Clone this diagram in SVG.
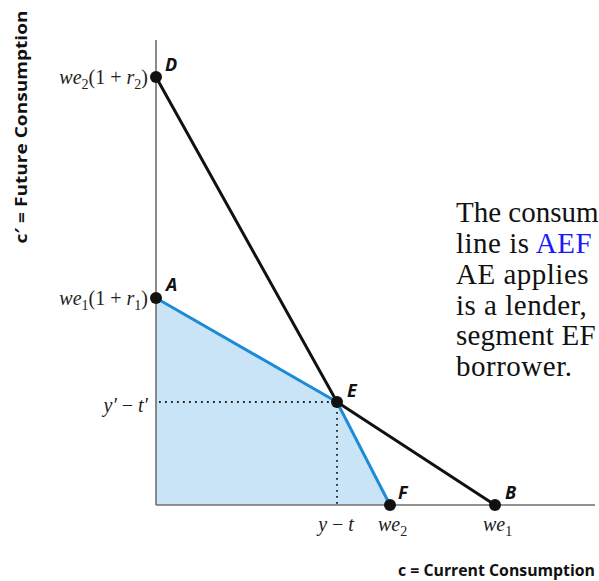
<svg xmlns="http://www.w3.org/2000/svg" width="599" height="581" viewBox="0 0 599 581">
<style>
.axis{stroke:#6d6e70;stroke-width:1.6;fill:none}
.blk{stroke:#111;stroke-width:3;fill:none;stroke-linecap:round}
.blu{stroke:#1d8bd6;stroke-width:3;fill:none;stroke-linecap:round}
.dot{stroke:#222;stroke-width:1.8;fill:none;stroke-dasharray:1.8 4.2}
.pt{fill:#111}
.lab{font-family:"Open Sans","Noto Sans",sans-serif;font-weight:bold;font-style:italic;font-size:18px;fill:#111}
.math{font-family:"Liberation Serif",serif;font-style:italic;font-size:20px;fill:#222}
.up{font-style:normal}
.ax{font-family:"Open Sans","Noto Sans",sans-serif;font-weight:bold;font-size:16px;fill:#111}
.txt{font-family:"Liberation Serif",serif;font-size:29px;fill:#111;letter-spacing:0.5px}
</style>
<g id="region">
<polygon points="156,298 337,402 390,505 156,505" fill="#c9e3f7"/>
</g>
<g id="axes">
<line class="axis" x1="156" y1="40" x2="156" y2="505"/>
<line class="axis" x1="156" y1="505" x2="595" y2="505"/>
</g>
<g id="connectors">
<line class="dot" x1="159" y1="402" x2="335" y2="402"/>
<line class="dot" x1="337" y1="406" x2="337" y2="504"/>
<polyline class="blk" points="156,77 337,402 495,505"/>
<polyline class="blu" points="156,298 337,402 390,505"/>
</g>
<g id="D"><circle class="pt" cx="156" cy="77" r="6"/><text class="lab" x="165" y="71">D</text>
<text class="math" x="148" y="84" text-anchor="end">we<tspan class="up" font-size="14" dy="5">2</tspan><tspan class="up" dy="-5">(1 + </tspan>r<tspan class="up" font-size="14" dy="5">2</tspan><tspan class="up" dy="-5">)</tspan></text></g>
<g id="A"><circle class="pt" cx="156" cy="298" r="6"/><text class="lab" x="166" y="291">A</text>
<text class="math" x="148" y="305" text-anchor="end">we<tspan class="up" font-size="14" dy="5">1</tspan><tspan class="up" dy="-5">(1 + </tspan>r<tspan class="up" font-size="14" dy="5">1</tspan><tspan class="up" dy="-5">)</tspan></text></g>
<g id="E"><circle class="pt" cx="337" cy="402" r="6"/><text class="lab" x="347" y="397">E</text></g>
<g id="F"><circle class="pt" cx="390" cy="505" r="6"/><text class="lab" x="398" y="499">F</text></g>
<g id="B"><circle class="pt" cx="495" cy="505" r="6"/><text class="lab" x="505" y="499">B</text></g>
<g id="ticks">
<text class="math" x="148" y="412" text-anchor="end">y′ <tspan class="up">−</tspan> t′</text>
<text class="math" x="336" y="531" text-anchor="middle">y <tspan class="up">−</tspan> t</text>
<text class="math" x="378" y="531">we<tspan class="up" font-size="14" dy="5">2</tspan></text>
<text class="math" x="483" y="531">we<tspan class="up" font-size="14" dy="5">1</tspan></text>
</g>
<g id="axis-labels">
<text class="ax" x="398" y="576" textLength="197" lengthAdjust="spacingAndGlyphs">c = Current Consumption</text>
<text class="ax" font-size="17" transform="translate(27,127) rotate(-90)" text-anchor="middle" textLength="233" lengthAdjust="spacingAndGlyphs">c′ = Future Consumption</text>
</g>
<g id="note" class="txt">
<text x="456" y="222" letter-spacing="0">The consum</text>
<text x="456" y="253">line is <tspan fill="#1a1aff">AEF</tspan></text>
<text x="456" y="284">AE applies</text>
<text x="456" y="315">is a lender,</text>
<text x="456" y="345" letter-spacing="0.2">segment EF</text>
<text x="456" y="376">borrower.</text>
</g>
</svg>
